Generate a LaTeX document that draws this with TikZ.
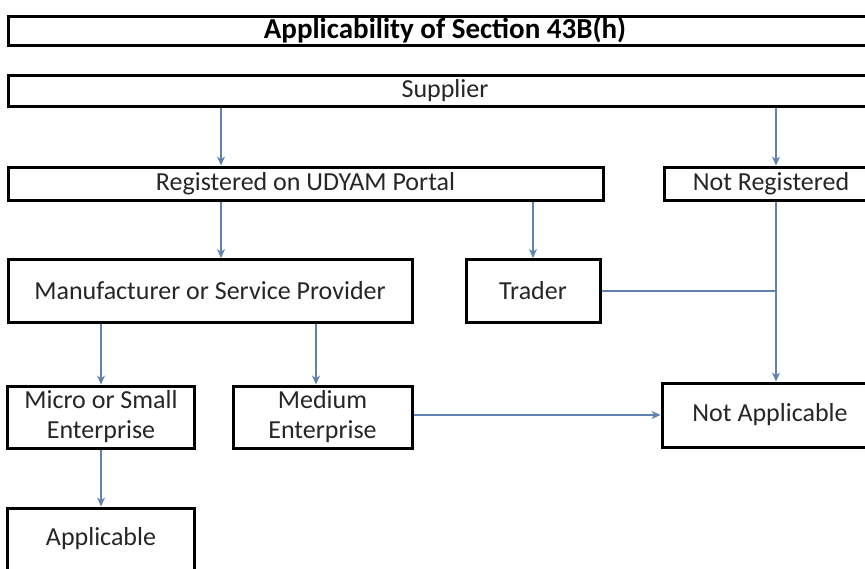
\documentclass[tikz,border=0pt]{standalone}
\usepackage{fontspec}
\setmainfont{Carlito}
\usetikzlibrary{arrows.meta}
\definecolor{conn}{RGB}{95,130,175}
\tikzset{
  box/.style={draw=black,line width=3pt,rectangle,inner sep=0pt,align=center,font=\fontsize{26}{30}\selectfont,text=black!85},
  arr/.style={draw=conn,line width=1.8pt,-{Stealth[length=9pt,width=8pt]}},
  ln/.style={draw=conn,line width=1.8pt}
}
\begin{document}
\begin{tikzpicture}[x=1pt,y=-1pt]
\useasboundingbox (0,0) rectangle (865,568);
\clip (0,0) rectangle (865,568);
\fill[white] (0,0) rectangle (865,568);
\node[box,minimum width=874pt,minimum height=29pt,font=\fontsize{29}{33}\bfseries,text=black] (title) at (445,30.5) {Applicability of Section 43B(h)};
\node[box,minimum width=874pt,minimum height=31pt] (supplier) at (445,90.5) {Supplier};
\node[box,minimum width=595pt,minimum height=33pt] (reg) at (305.5,183.5) {Registered on UDYAM Portal};
\node[box,minimum width=214pt,minimum height=33pt] (notreg) at (771,183.5) {Not Registered};
\node[box,minimum width=404pt,minimum height=63pt] (manu) at (210,291) {Manufacturer or Service Provider};
\node[box,minimum width=134pt,minimum height=63pt] (trader) at (533,291) {Trader};
\node[box,minimum width=187pt,minimum height=62pt] (micro) at (101,417) {Micro or Small\\Enterprise};
\node[box,minimum width=179pt,minimum height=62pt] (medium) at (322.5,417) {Medium\\Enterprise};
\node[box,minimum width=216pt,minimum height=64pt] (notapp) at (770,415) {Not Applicable};
\node[box,minimum width=187pt,minimum height=62pt] (appl) at (101,539) {Applicable};
\coordinate (c1) at (221,0);
\coordinate (c2) at (776,0);
\coordinate (c3) at (316,0);
\draw[arr] (supplier.south -| c1) -- (reg.north -| c1);
\draw[arr] (supplier.south -| c2) -- (notreg.north -| c2);
\draw[arr] (reg.south -| c1) -- (manu.north -| c1);
\draw[arr] (reg.south -| trader.north) -- (trader.north);
\draw[ln] (trader.east) -- (trader.east -| c2);
\draw[arr] (notreg.south -| c2) -- (notapp.north -| c2);
\draw[arr] (manu.south -| micro.north) -- (micro.north);
\draw[arr] (manu.south -| c3) -- (medium.north -| c3);
\draw[arr] (medium.east |- notapp.west) -- (notapp.west);
\draw[arr] (micro.south) -- (appl.north);
\end{tikzpicture}
\end{document}
